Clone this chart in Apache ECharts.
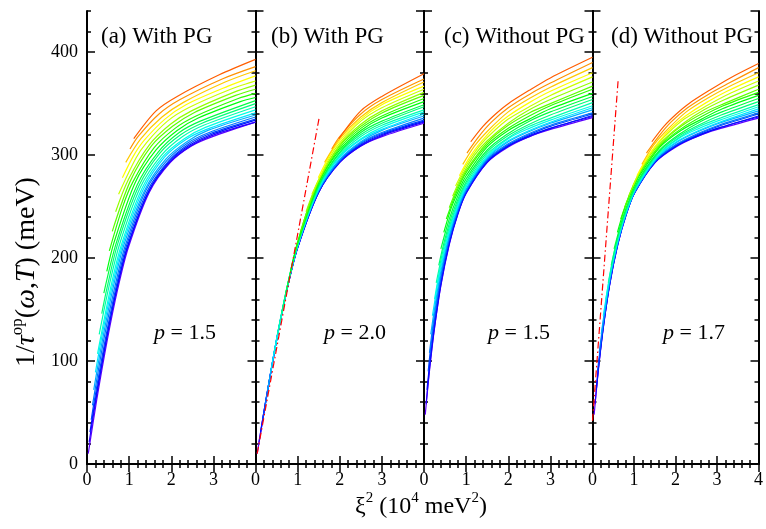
<!DOCTYPE html>
<html>
<head>
<meta charset="utf-8">
<script src="https://cdn.jsdelivr.net/npm/echarts@6/dist/echarts.min.js"></script>
<style>
html, body { margin: 0; padding: 0; background: #fff; }
#chart { width: 766px; height: 529px; }
</style>
</head>
<body>
<div id="chart"></div>
<script>
// one row per temperature, lowest T (violet) first, highest T (orange) last
// each row: x0, y0, x1, y1, ...  (xi^2 in 10^4 meV^2, 1/tau in meV)
var curvesA = [
  [0.03,10, 0.23,62, 0.48,120, 0.73,170, 0.98,210, 1.48,264, 1.98,293, 2.48,309, 2.98,318, 4,332],
  [0.05,21, 0.21,62, 0.46,120, 0.71,170, 0.96,210, 1.46,264, 1.96,293, 2.46,309, 2.96,319, 4,332],
  [0.07,31, 0.20,63, 0.45,120, 0.70,170, 0.95,210, 1.45,264, 1.95,294, 2.45,310, 2.95,320, 4,334],
  [0.10,43, 0.18,63, 0.43,120, 0.68,170, 0.93,211, 1.43,265, 1.93,294, 2.43,311, 2.93,321, 4,335],
  [0.13,57, 0.40,121, 0.65,170, 0.90,211, 1.40,266, 1.90,295, 2.40,312, 2.90,322, 4,337],
  [0.16,72, 0.37,121, 0.62,171, 0.87,212, 1.37,266, 1.87,296, 2.37,313, 2.87,324, 4,339],
  [0.20,89, 0.34,121, 0.59,171, 0.84,212, 1.34,267, 1.84,298, 2.34,315, 2.84,325, 4,341],
  [0.25,107, 0.56,171, 0.81,212, 1.31,268, 1.81,299, 2.31,316, 2.81,327, 4,344],
  [0.29,126, 0.52,172, 0.77,213, 1.27,269, 1.77,300, 2.27,318, 2.77,329, 4,347],
  [0.35,146, 0.48,172, 0.73,214, 1.23,270, 1.73,302, 2.23,320, 2.73,331, 4,350],
  [0.40,166, 0.69,214, 1.19,271, 1.69,303, 2.19,322, 2.69,333, 4,353],
  [0.47,187, 0.64,215, 1.14,273, 1.64,305, 2.14,324, 2.64,336, 3.64,352, 4,356],
  [0.53,207, 0.84,249, 1.09,274, 1.59,307, 2.09,326, 2.59,338, 3.59,355, 4,360],
  [0.60,226, 1.03,275, 1.53,309, 2.03,328, 2.53,341, 3.53,358, 4,364],
  [0.68,245, 0.98,276, 1.48,310, 1.98,330, 2.48,343, 3.48,361, 4,368],
  [0.75,262, 1.16,297, 1.41,312, 1.91,333, 2.41,346, 3.41,364, 4,372],
  [0.84,278, 1.10,299, 1.35,314, 1.85,335, 2.35,349, 3.35,367, 4,377],
  [0.92,293, 1.28,316, 1.78,337, 2.28,351, 3.28,371, 4,382],
  [1.02,306, 1.21,318, 1.71,340, 2.21,354, 3.21,374, 4,386],
  [1.11,316, 1.64,343, 2.14,357, 3.14,378, 4,393]
];
var curvesB = [
  [0.04,10, 0.25,62, 0.5,120, 0.75,170, 1,210, 1.5,264, 2,293, 2.5,309, 3,318, 4,331],
  [0.08,21, 0.25,62, 0.5,120, 0.75,170, 1,210, 1.5,264, 2,293, 2.5,309, 3,319, 4,332],
  [0.12,31, 0.25,63, 0.5,120, 0.75,170, 1,210, 1.5,264, 2,294, 2.5,310, 3,320, 4,333],
  [0.17,43, 0.25,63, 0.5,120, 0.75,170, 1,211, 1.5,265, 2,294, 2.5,311, 3,321, 4,334],
  [0.23,57, 0.5,121, 0.75,170, 1,211, 1.5,266, 2,295, 2.5,312, 3,322, 4,336],
  [0.29,72, 0.5,121, 0.75,171, 1,212, 1.5,266, 2,296, 2.5,313, 3,324, 4,338],
  [0.36,89, 0.5,121, 0.75,171, 1,212, 1.5,267, 2,298, 2.5,315, 3,325, 4,340],
  [0.44,107, 0.75,171, 1,212, 1.5,268, 2,299, 2.5,316, 3,327, 4,342],
  [0.52,126, 0.75,172, 1,213, 1.5,269, 2,300, 2.5,318, 3,329, 4,344],
  [0.62,146, 0.75,172, 1,214, 1.5,270, 2,302, 2.5,320, 3,331, 4,347],
  [0.72,166, 1,214, 1.5,271, 2,303, 2.5,322, 3,333, 4,349],
  [0.83,187, 1,215, 1.5,273, 2,305, 2.5,324, 3,336, 4,352],
  [0.94,207, 1.25,249, 1.5,274, 2,307, 2.5,326, 3,338, 4,355],
  [1.07,226, 1.5,275, 2,309, 2.5,328, 3,341, 4,358],
  [1.2,245, 1.5,276, 2,310, 2.5,330, 3,343, 4,361],
  [1.34,262, 1.75,297, 2,312, 2.5,333, 3,346, 4,364],
  [1.49,278, 1.75,299, 2,314, 2.5,335, 3,349, 4,367],
  [1.64,293, 2,316, 2.5,337, 3,351, 4,371],
  [1.81,306, 2,318, 2.5,340, 3,354, 4,374],
  [1.98,316, 2.5,343, 3,357, 4,379]
];
var curvesC = [
  [0.03,48, 0.08,70, 0.15,98, 0.25,132, 0.4,173, 0.6,213, 0.8,242, 1,263, 1.5,293, 2,308, 2.5,318, 3,325, 4,336.5],
  [0.05,58, 0.1,80, 0.15,100, 0.25,133, 0.4,174, 0.6,214, 0.8,243, 1,263, 1.5,293, 2,309, 2.5,318, 3,326, 4,337.5],
  [0.07,72, 0.1,84, 0.15,103, 0.25,136, 0.4,176, 0.6,215, 0.8,243, 1,264, 1.5,294, 2,309, 2.5,319, 3,326, 4,338.5],
  [0.1,90, 0.15,110, 0.25,141, 0.4,180, 0.6,218, 0.8,245, 1,265, 1.5,295, 2,310, 2.5,320, 3,328, 4,340],
  [0.13,108, 0.25,146, 0.4,183, 0.6,220, 0.8,247, 1,266, 1.5,296, 2,311, 2.5,321, 3,329, 4,341],
  [0.16,126, 0.25,151, 0.4,187, 0.6,222, 0.8,248, 1,267, 1.5,297, 2,313, 2.5,323, 3,331, 4,344],
  [0.2,144, 0.3,169, 0.4,191, 0.6,225, 0.8,250, 1,269, 1.5,298, 2,314, 2.5,324, 3,332, 4,346],
  [0.25,160, 0.4,194, 0.6,227, 0.8,252, 1,270, 1.5,299, 2,316, 2.5,326, 3,334, 4,348],
  [0.29,176, 0.45,207, 0.6,230, 0.8,254, 1,272, 1.5,301, 2,317, 2.5,328, 3,336, 4,351],
  [0.35,193, 0.5,219, 0.7,246, 1,274, 1.5,303, 2,319, 2.5,330, 3,339, 4,354],
  [0.4,209, 0.6,238, 0.8,260, 1,277, 1.5,305, 2,321, 2.5,333, 3,342, 4,357],
  [0.47,225, 0.65,249, 0.85,268, 1,280, 1.5,308, 2,324, 2.5,335, 3,345, 4,360],
  [0.53,238, 0.75,262, 1,283, 1.5,310, 2,326, 2.5,338, 3,348, 4,364],
  [0.6,249, 0.8,269, 1,285, 1.5,312, 2,329, 2.5,341, 3,350, 4,367],
  [0.68,260, 0.9,280, 1.2,300, 1.5,314, 2,331, 2.5,344, 3,354, 4,371],
  [0.75,270, 1,290, 1.3,308, 1.6,321, 2,335, 2.5,347, 3,358, 4,376],
  [0.84,280, 1.1,299, 1.4,315, 1.7,328, 2,338, 2.5,351, 3,362, 4,380],
  [0.92,291, 1.2,309, 1.5,323, 2,342, 2.5,355, 3,366, 4,385],
  [1.02,302, 1.3,318, 1.6,332, 2,346, 2.5,359, 3,370, 4,390],
  [1.11,313, 1.4,328, 1.7,340, 2,350, 2.5,363, 3,375, 4,395]
];
var curvesD = [
  [0.04,48, 0.09,70, 0.16,98, 0.26,132, 0.41,173, 0.61,213, 0.81,242, 1.01,263, 1.51,293, 2.01,308, 2.51,318, 3.01,325, 4,336],
  [0.06,58, 0.11,80, 0.16,100, 0.26,133, 0.41,174, 0.61,214, 0.81,243, 1.01,263, 1.51,293, 2.01,309, 2.51,318, 3.01,326, 4,337],
  [0.09,72, 0.12,84, 0.17,103, 0.27,136, 0.42,176, 0.62,215, 0.82,243, 1.02,264, 1.52,294, 2.02,309, 2.52,319, 3.02,326, 4,338],
  [0.12,90, 0.18,110, 0.28,141, 0.43,180, 0.63,218, 0.83,245, 1.03,265, 1.53,295, 2.03,310, 2.53,320, 3.03,328, 4,340],
  [0.16,108, 0.29,146, 0.44,183, 0.64,220, 0.84,247, 1.04,266, 1.54,296, 2.04,311, 2.54,321, 3.04,329, 4,341],
  [0.21,126, 0.30,151, 0.45,187, 0.65,222, 0.85,248, 1.05,267, 1.55,297, 2.05,313, 2.55,323, 3.05,331, 4,343],
  [0.26,144, 0.36,169, 0.46,191, 0.66,225, 0.86,250, 1.06,269, 1.56,298, 2.06,314, 2.56,324, 3.06,332, 4,345],
  [0.32,160, 0.47,194, 0.67,227, 0.87,252, 1.07,270, 1.57,299, 2.07,316, 2.57,326, 3.07,334, 4,347],
  [0.38,176, 0.53,207, 0.68,230, 0.88,254, 1.08,272, 1.58,301, 2.08,317, 2.58,328, 3.08,336, 4,349],
  [0.45,193, 0.60,219, 0.80,246, 1.10,274, 1.60,303, 2.10,319, 2.60,330, 3.10,339, 4,352],
  [0.52,209, 0.72,238, 0.92,260, 1.12,277, 1.62,305, 2.12,321, 2.62,333, 3.12,342, 4,355],
  [0.60,225, 0.78,249, 0.98,268, 1.13,280, 1.63,308, 2.13,324, 2.63,335, 3.13,345, 4,358],
  [0.68,238, 0.90,262, 1.15,283, 1.65,310, 2.15,326, 2.65,338, 3.15,348, 4,361],
  [0.77,249, 0.97,269, 1.17,285, 1.67,312, 2.17,329, 2.67,341, 3.17,350, 4,364],
  [0.87,260, 1.09,280, 1.39,300, 1.69,314, 2.19,331, 2.69,344, 3.19,354, 4,368],
  [0.97,270, 1.21,290, 1.51,308, 1.81,321, 2.21,335, 2.71,347, 3.21,358, 4,372],
  [1.07,280, 1.34,299, 1.64,315, 1.94,328, 2.24,338, 2.74,351, 3.24,362, 4,376],
  [1.19,291, 1.46,309, 1.76,323, 2.26,342, 2.76,355, 3.26,366, 4,380],
  [1.30,302, 1.59,318, 1.89,332, 2.29,346, 2.79,359, 3.29,370, 4,385],
  [1.43,313, 1.72,328, 2.02,340, 2.32,350, 2.82,363, 3.32,375, 4,389]
];
// dash-dot reference lines in (b) and (d): x0, y0, x1, y1
var fitB = [0.04, 10, 1.51, 336];
var fitD = [0.0, 42, 0.62, 374];

var panelTitles = ['(a) With PG', '(b) With PG', '(c) Without PG', '(d) Without PG'];
var pValues = ['1.5', '2.0', '1.5', '1.7'];
var xRange = [0, 4];
var yRange = [0, 440];

var FONT = '"Liberation Serif", "Times New Roman", serif';
var panelLeft = [87, 255.5, 424, 592.5];
var panelWidth = 168.5;
var gridTop = 11, gridHeight = 453;

function toPairs(flat) {
    var out = [];
    for (var i = 0; i < flat.length; i += 2) out.push([flat[i], flat[i + 1]]);
    return out;
}
function lineColor(k, n) {
    return 'hsl(' + (262 - 240 * k / (n - 1)) + ',100%,50%)';
}

var chart = echarts.init(document.getElementById('chart'));

var grids = [], xAxes = [], yAxes = [], series = [];
var axisLine = { show: true, lineStyle: { color: '#000', width: 2 } };
var tickStyle = { color: '#000', width: 1.5 };

[curvesA, curvesB, curvesC, curvesD].forEach(function (curves, i) {
    grids.push({ left: panelLeft[i], top: gridTop, width: panelWidth, height: gridHeight });
    ['bottom', 'top'].forEach(function (pos) {
        xAxes.push({
            gridIndex: i, type: 'value', position: pos, min: xRange[0], max: xRange[1], interval: 1,
            axisLine: axisLine,
            axisTick: { show: true, inside: true, length: 8, lineStyle: tickStyle },
            minorTick: { show: true, splitNumber: 5, length: 4, lineStyle: tickStyle },
            axisLabel: {
                show: pos === 'bottom', showMaxLabel: i === 3, margin: 7,
                color: '#000', fontFamily: FONT, fontSize: 18
            },
            splitLine: { show: false }, minorSplitLine: { show: false }
        });
    });
    ['left', 'right'].forEach(function (pos) {
        // major ticks every 100
        yAxes.push({
            gridIndex: i, type: 'value', position: pos, min: yRange[0], max: yRange[1], interval: 100,
            axisLine: axisLine,
            axisTick: { show: true, inside: true, length: 8, lineStyle: tickStyle },
            axisLabel: {
                show: pos === 'left' && i === 0, showMaxLabel: false, margin: 9,
                color: '#000', fontFamily: FONT, fontSize: 18
            },
            splitLine: { show: false }
        });
        // minor ticks every 20
        yAxes.push({
            gridIndex: i, type: 'value', position: pos, min: yRange[0], max: yRange[1], interval: 20,
            axisLine: { show: false },
            axisTick: { show: true, inside: true, length: 4, lineStyle: tickStyle },
            axisLabel: { show: false },
            splitLine: { show: false }
        });
    });
    curves.forEach(function (c, k) {
        series.push({
            type: 'line', xAxisIndex: 2 * i, yAxisIndex: 4 * i,
            data: toPairs(c), showSymbol: false, smooth: 0.3,
            lineStyle: { width: 1.2, color: lineColor(k, curves.length) },
            silent: true, z: 2
        });
    });
});

[[1, fitB], [3, fitD]].forEach(function (f) {
    series.push({
        type: 'line', xAxisIndex: 2 * f[0], yAxisIndex: 4 * f[0],
        data: toPairs(f[1]), showSymbol: false,
        lineStyle: { width: 1.2, color: '#ff0000', type: [7, 3, 1.5, 3] },
        silent: true, z: 3
    });
});

var titleX = [101, 271, 444, 611];
var pX = [185, 355, 519, 694];
var graphics = [];
panelTitles.forEach(function (t, i) {
    graphics.push({
        type: 'text', x: titleX[i], y: 25, silent: true,
        style: { text: t, fill: '#000', font: '23px ' + FONT, textVerticalAlign: 'top' }
    });
    graphics.push({
        type: 'text', x: pX[i], y: 333, silent: true,
        style: {
            text: '{i|p} = ' + pValues[i], fill: '#000', textAlign: 'center', textVerticalAlign: 'middle',
            font: '22px ' + FONT,
            rich: { i: { fontStyle: 'italic', fontFamily: FONT, fontSize: 22 } }
        }
    });
});
// y axis title
graphics.push({
    type: 'text', x: 25, y: 272, rotation: Math.PI / 2, silent: true,
    style: {
        text: '{n|1/}{i|τ}{s|op}{n|(}{i|ω}{n|,}{i|T}{n|) (meV)}',
        fill: '#000', textAlign: 'center', textVerticalAlign: 'middle',
        rich: {
            n: { fontFamily: FONT, fontSize: 28, lineHeight: 32, verticalAlign: 'bottom' },
            i: { fontFamily: FONT, fontSize: 28, fontStyle: 'italic', lineHeight: 32, verticalAlign: 'bottom' },
            s: { fontFamily: FONT, fontSize: 17, lineHeight: 17, verticalAlign: 'top' }
        }
    }
});
// x axis title
graphics.push({
    type: 'text', x: 421, y: 505, silent: true,
    style: {
        text: '{n|ξ}{s|2}{n| (10}{s|4}{n| meV}{s|2}{n|)}',
        fill: '#000', textAlign: 'center', textVerticalAlign: 'middle',
        rich: {
            n: { fontFamily: FONT, fontSize: 24, lineHeight: 28, verticalAlign: 'bottom' },
            s: { fontFamily: FONT, fontSize: 15, lineHeight: 15, verticalAlign: 'top' }
        }
    }
});

chart.setOption({
    animation: false,
    backgroundColor: '#fff',
    grid: grids,
    xAxis: xAxes,
    yAxis: yAxes,
    series: series,
    graphic: graphics
});
</script>
</body>
</html>
